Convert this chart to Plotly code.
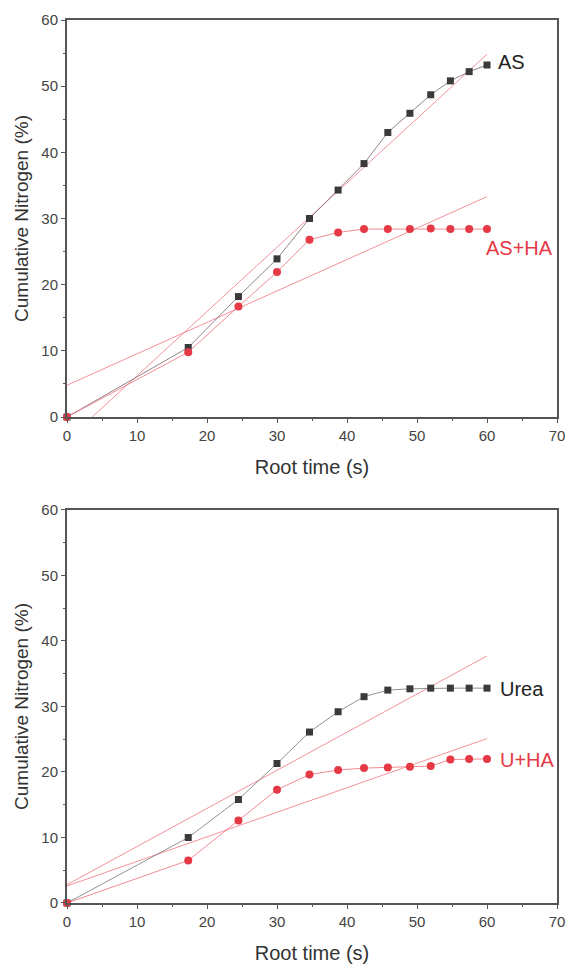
import plotly.graph_objects as go

# ---- data ----
root_time = [0, 17.32, 24.49, 30.0, 34.64, 38.73, 42.43, 45.83, 48.99, 51.96, 54.77, 57.45, 60.0]

as_vals = [0, 10.5, 18.2, 23.9, 30.0, 34.3, 38.3, 43.0, 45.9, 48.7, 50.8, 52.2, 53.2]
as_ha_vals = [0, 9.8, 16.7, 21.9, 26.8, 27.9, 28.4, 28.4, 28.4, 28.5, 28.4, 28.4, 28.4]

urea_vals = [0, 10.0, 15.8, 21.3, 26.1, 29.2, 31.5, 32.5, 32.7, 32.8, 32.8, 32.8, 32.8]
u_ha_vals = [0, 6.5, 12.6, 17.3, 19.6, 20.3, 20.6, 20.7, 20.8, 20.9, 21.9, 22.0, 22.0]

# linear fits: (slope, intercept, x_start, x_end)
fit_as = (0.972, -3.5, 3.6, 60)
fit_as_ha = (0.475, 4.8, 0, 60)
fit_urea = (0.582, 2.8, 0, 60)
fit_u_ha = (0.375, 2.6, 0, 60)

x_ticks = [0, 10, 20, 30, 40, 50, 60, 70]
y_ticks = [0, 10, 20, 30, 40, 50, 60]

BLACK = "#3a3a3a"
RED = "#e63946"
FITC = "rgba(240,110,120,0.75)"
FONT = "Liberation Sans, Arial, sans-serif"

fig = go.Figure()


def fit_line(fit, xa, ya):
    s, b, x0, x1 = fit
    xs = [x0, x1]
    ys = [s * v + b for v in xs]
    fig.add_trace(go.Scatter(x=xs, y=ys, mode="lines", xaxis=xa, yaxis=ya,
                             line=dict(color=FITC, width=1), showlegend=False,
                             hoverinfo="skip"))


def series(vals, color, symbol, linecolor, xa, ya):
    fig.add_trace(go.Scatter(x=root_time, y=vals, mode="lines+markers", xaxis=xa, yaxis=ya,
                             line=dict(color=linecolor, width=1),
                             marker=dict(color=color, symbol=symbol, size=7 if symbol == "square" else 8,
                                         line=dict(width=0)),
                             showlegend=False, cliponaxis=False))


# top panel
fit_line(fit_as, "x", "y")
fit_line(fit_as_ha, "x", "y")
series(as_vals, BLACK, "square", "rgba(120,100,110,0.8)", "x", "y")
series(as_ha_vals, RED, "circle", "rgba(240,110,120,0.8)", "x", "y")

# bottom panel
fit_line(fit_urea, "x2", "y2")
fit_line(fit_u_ha, "x2", "y2")
series(urea_vals, BLACK, "square", "rgba(120,120,120,0.8)", "x2", "y2")
series(u_ha_vals, RED, "circle", "rgba(240,110,120,0.8)", "x2", "y2")

axis_common = dict(
    showgrid=False, zeroline=False, showline=True, linecolor="#555", linewidth=2,
    mirror=True, ticks="outside", ticklen=4, tickwidth=1, tickcolor="#555",
    tickfont=dict(family=FONT, size=15, color="#444"),
    minor=dict(ticks="outside", ticklen=2, tickcolor="#555", dtick=5),
    automargin=False,
)

xaxis_cfg = dict(axis_common, range=[0, 70], tickvals=x_ticks,
                 title=dict(text="Root time (s)", font=dict(family=FONT, size=20, color="#333"),
                            standoff=17))
yaxis_cfg = dict(axis_common, range=[0, 60], tickvals=y_ticks,
                 title=dict(text="Cumulative Nitrogen (%)", font=dict(family=FONT, size=19, color="#333"),
                            standoff=8))

fig.update_layout(
    width=567, height=968,
    margin=dict(l=67, r=10, t=20, b=65),
    paper_bgcolor="white", plot_bgcolor="white",
    xaxis=dict(xaxis_cfg, domain=[0, 1], anchor="y"),
    yaxis=dict(yaxis_cfg, domain=[0.5504, 1], anchor="x"),
    xaxis2=dict(xaxis_cfg, domain=[0, 1], anchor="y2"),
    yaxis2=dict(yaxis_cfg, domain=[0, 0.4451], anchor="x2"),
)

ann_font = dict(family=FONT, size=20)
fig.add_annotation(x=61.3, y=53.7, xref="x", yref="y", text="AS", showarrow=False,
                   xanchor="left", yanchor="middle", font=dict(ann_font, color="#222"))
fig.add_annotation(x=59.6, y=25.6, xref="x", yref="y", text="AS+HA", showarrow=False,
                   xanchor="left", yanchor="middle", font=dict(ann_font, color=RED))
fig.add_annotation(x=61.5, y=32.7, xref="x2", yref="y2", text="Urea", showarrow=False,
                   xanchor="left", yanchor="middle", font=dict(ann_font, color="#222"))
fig.add_annotation(x=61.5, y=21.8, xref="x2", yref="y2", text="U+HA", showarrow=False,
                   xanchor="left", yanchor="middle", font=dict(ann_font, color=RED))

fig.write_html("out.html", config={"displayModeBar": False},
               post_script="document.body.style.margin='0';")
